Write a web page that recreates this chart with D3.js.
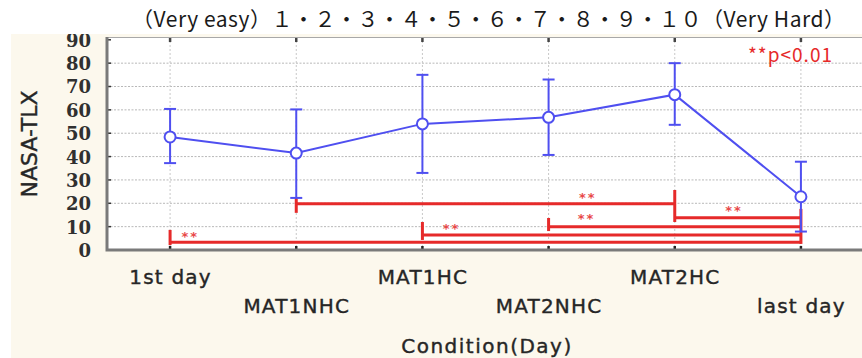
<!DOCTYPE html>
<html><head><meta charset="utf-8">
<script src="https://cdn.jsdelivr.net/npm/d3@7"></script>
<style>body{margin:0;background:#fff}svg{display:block}</style>
</head><body>
<script>
// ---- data ----
const categories = ["1st day", "MAT1NHC", "MAT1HC", "MAT2NHC", "MAT2HC", "last day"];
const meanValues  = [48.4, 41.5, 54.0, 56.8, 66.5, 22.8];
const upperValues = [60.4, 60.2, 75.0, 73.0, 80.0, 37.8];
const lowerValues = [37.2, 22.3, 33.0, 40.7, 53.6, 7.9];
const yTickValues = [0, 10, 20, 30, 40, 50, 60, 70, 80, 90];
const titleText = "（Very easy）１・２・３・４・５・６・７・８・９・１０（Very Hard）";
const yAxisTitle = "NASA-TLX";
const xAxisTitle = "Condition(Day)";
const sigNote = "**p<0.01";
// significance brackets: from, to, level
const bracketFrom  = ["1st day", "MAT1HC", "MAT2NHC", "MAT2HC", "MAT1NHC"];
const bracketTo    = ["last day", "last day", "last day", "last day", "MAT2HC"];
const bracketLevel = [3.3, 6.4, 10.0, 13.8, 19.8];
// vertical end marks of the brackets: category, low, high
const markCats = ["1st day", "MAT1NHC", "MAT1HC", "MAT2NHC", "MAT2HC", "last day"];
const markLow  = [2.1, 15.9, 4.3, 8.1, 12.0, 2.6];
const markHigh = [8.6, 22.3, 12.0, 13.7, 25.7, 17.6];
// star labels: position along category index, value
const starIndex = [0.16, 2.23, 3.30, 4.47, 3.31];
const starValue = [7.3, 10.7, 15.0, 18.4, 24.0];

// ---- layout ----
const W = 862, H = 358;
const plot = {left: 107, right: 864, top: 37, bottom: 250};
const blue = "#4f4ff0", red = "#e62a2a";

const svg = d3.select("body").append("svg").attr("width", W).attr("height", H);
svg.append("rect").attr("width", W).attr("height", H).attr("fill", "#fff");
svg.append("rect").attr("x", 11).attr("y", 34).attr("width", W - 11).attr("height", H - 34).attr("fill", "#fcf8ed");
svg.append("rect").attr("x", plot.left).attr("y", plot.top)
  .attr("width", plot.right - plot.left).attr("height", plot.bottom - plot.top).attr("fill", "#fff");

const x = d3.scalePoint().domain(categories).range([plot.left, plot.right]).padding(0.5);
const y = d3.scaleLinear().domain([0, 91.2]).range([plot.bottom, plot.top]);
const xi = d3.scaleLinear().domain([0, categories.length - 1])
  .range([x(categories[0]), x(categories[categories.length - 1])]);

// grid
const grid = svg.append("g");
grid.selectAll("line.h").data(yTickValues.filter(v => v > 0 && v < 90)).join("line")
  .attr("x1", plot.left).attr("x2", plot.right).attr("y1", d => y(d)).attr("y2", d => y(d))
  .attr("stroke", "#b8b8b8").attr("stroke-width", 1).attr("stroke-dasharray", "2,1.5");
grid.selectAll("line.v").data(categories).join("line")
  .attr("x1", d => x(d)).attr("x2", d => x(d)).attr("y1", plot.top).attr("y2", plot.bottom)
  .attr("stroke", "#c8c8c8").attr("stroke-width", 1).attr("stroke-dasharray", "2,2");

// y axis
const yAxis = d3.axisLeft(y).tickValues(yTickValues).tickSize(0).tickPadding(16);
const yg = svg.append("g").attr("transform", `translate(${plot.left},0)`).call(yAxis);
yg.select(".domain").remove();
yg.selectAll("text").attr("font-family", "DejaVu Serif").attr("font-weight", "bold")
  .attr("font-size", 18).attr("fill", "#303030").attr("dy", "0.36em");
svg.append("g").selectAll("line").data(yTickValues.filter(v => v > 0)).join("line")
  .attr("x1", plot.left).attr("x2", plot.left + 4).attr("y1", d => y(d)).attr("y2", d => y(d))
  .attr("stroke", "#333").attr("stroke-width", 1.5);

// x axis labels (alternating rows)
const xAxis = d3.axisBottom(x).tickSize(0).tickPadding(0);
const xg = svg.append("g").attr("transform", `translate(0,${plot.bottom})`).call(xAxis);
xg.select(".domain").remove();
xg.selectAll("text")
  .attr("font-family", "DejaVu Sans").attr("font-size", 20).attr("letter-spacing", 1.2)
  .attr("fill", "#262626").attr("stroke", "#262626").attr("stroke-width", 0.4)
  .attr("dy", null)
  .attr("y", (d, i) => i % 2 === 0 ? 34 : 63);

// x ticks top and bottom
svg.append("g").selectAll("line").data(categories).join("line")
  .attr("x1", d => x(d)).attr("x2", d => x(d)).attr("y1", plot.bottom - 4).attr("y2", plot.bottom)
  .attr("stroke", "#222").attr("stroke-width", 2.5);
svg.append("g").selectAll("line").data(categories).join("line")
  .attr("x1", d => x(d)).attr("x2", d => x(d)).attr("y1", plot.top).attr("y2", plot.top + 5)
  .attr("stroke", "#444").attr("stroke-width", 2.5);

// frame
svg.append("line").attr("x1", plot.left).attr("x2", plot.right).attr("y1", plot.top + 0.5).attr("y2", plot.top + 0.5)
  .attr("stroke", "#a8a8a8").attr("stroke-width", 1);
svg.append("path")
  .attr("d", `M${plot.left},${plot.top} L${plot.left},${plot.bottom} L${plot.right},${plot.bottom}`)
  .attr("fill", "none").attr("stroke", "#7a7a7a").attr("stroke-width", 3);

// significance brackets
const br = svg.append("g").attr("stroke", red).attr("stroke-width", 3).attr("fill", "none");
br.selectAll("line.b").data(bracketLevel).join("line")
  .attr("x1", (d, i) => x(bracketFrom[i])).attr("x2", (d, i) => x(bracketTo[i]))
  .attr("y1", d => y(d)).attr("y2", d => y(d));
br.selectAll("line.m").data(markCats).join("line")
  .attr("x1", d => x(d)).attr("x2", d => x(d))
  .attr("y1", (d, i) => y(markLow[i])).attr("y2", (d, i) => y(markHigh[i]));
svg.append("g").selectAll("text").data(starIndex).join("text")
  .attr("x", d => xi(d)).attr("y", (d, i) => y(starValue[i]) + 8)
  .attr("text-anchor", "middle").attr("font-family", "DejaVu Sans").attr("font-weight", "bold")
  .attr("font-size", 13).attr("letter-spacing", 2).attr("fill", "#e84848").text("**");

// error bars
const eb = svg.append("g").attr("stroke", blue).attr("stroke-width", 2);
eb.selectAll("line.v").data(categories).join("line")
  .attr("x1", d => x(d)).attr("x2", d => x(d))
  .attr("y1", (d, i) => y(lowerValues[i])).attr("y2", (d, i) => y(upperValues[i]));
eb.selectAll("line.u").data(categories).join("line")
  .attr("x1", d => x(d) - 6).attr("x2", d => x(d) + 6)
  .attr("y1", (d, i) => y(upperValues[i])).attr("y2", (d, i) => y(upperValues[i]));
eb.selectAll("line.l").data(categories).join("line")
  .attr("x1", d => x(d) - 6).attr("x2", d => x(d) + 6)
  .attr("y1", (d, i) => y(lowerValues[i])).attr("y2", (d, i) => y(lowerValues[i]));

// mean line + markers
const line = d3.line().x((d, i) => x(categories[i])).y(d => y(d));
svg.append("path").datum(meanValues).attr("d", line)
  .attr("fill", "none").attr("stroke", blue).attr("stroke-width", 2);
svg.append("g").selectAll("circle").data(meanValues).join("circle")
  .attr("cx", (d, i) => x(categories[i])).attr("cy", d => y(d)).attr("r", 5.5)
  .attr("fill", "#fff").attr("stroke", blue).attr("stroke-width", 2);

// p note
svg.append("text").attr("x", 748).attr("y", 62)
  .attr("font-family", "Noto Sans CJK JP").attr("font-size", 19).attr("letter-spacing", 1)
  .attr("fill", red).text(sigNote);

// axis titles
svg.append("text").attr("transform", `translate(37,144) rotate(-90)`)
  .attr("text-anchor", "middle").attr("font-family", "DejaVu Sans").attr("font-size", 22)
  .attr("fill", "#262626").attr("stroke", "#262626").attr("stroke-width", 0.4).text(yAxisTitle);
svg.append("text").attr("x", 487).attr("y", 353).attr("text-anchor", "middle")
  .attr("font-family", "DejaVu Sans").attr("font-size", 20).attr("letter-spacing", 1.5)
  .attr("fill", "#262626").attr("stroke", "#262626").attr("stroke-width", 0.4).text(xAxisTitle);

// title strip (white, over the chart)
svg.append("rect").attr("x", 0).attr("y", 0).attr("width", W).attr("height", 34).attr("fill", "#fff");
svg.append("rect").attr("x", 0).attr("y", 0).attr("width", 11).attr("height", H).attr("fill", "#fff");
svg.append("text").attr("x", 132).attr("y", 27)
  .attr("font-family", "Noto Sans CJK JP").attr("font-size", 21)
  .attr("textLength", 713).attr("lengthAdjust", "spacing")
  .attr("fill", "#1a1a1a").text(titleText);
</script>
</body></html>
